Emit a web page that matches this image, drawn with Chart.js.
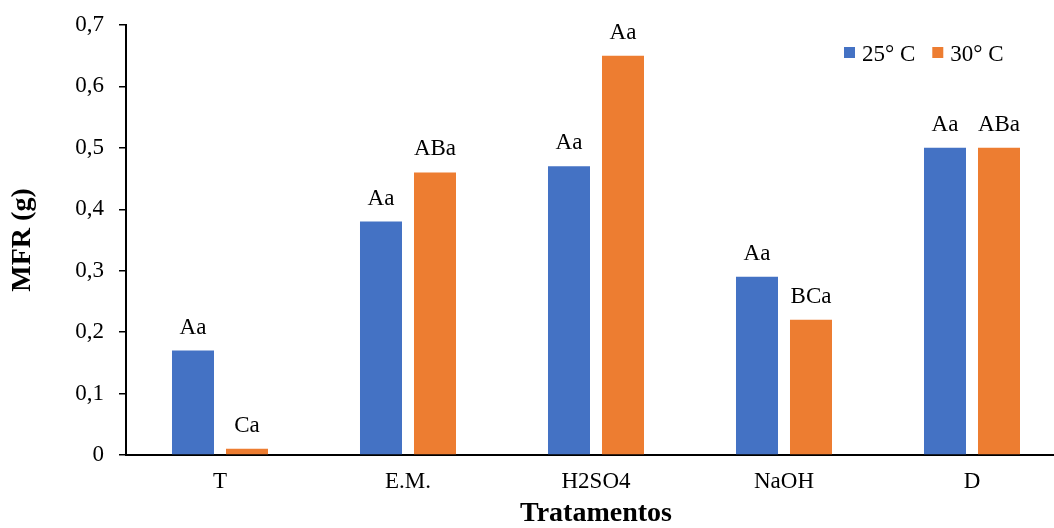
<!DOCTYPE html>
<html><head><meta charset="utf-8">
<script src="https://cdn.jsdelivr.net/npm/chart.js@4"></script>
<style>html,body{margin:0;padding:0;overflow:hidden;background:#fff}#wrap{width:1054px;height:528px;overflow:hidden;position:relative}canvas{display:block}</style>
</head><body><div id="wrap"><canvas id="c" width="1066" height="528"></canvas></div>
<script>
const categories = ['T', 'E.M.', 'H2SO4', 'NaOH', 'D'];
const seriesNames = ['25° C', '30° C'];
const values25 = [0.17, 0.38, 0.47, 0.29, 0.50];
const values30 = [0.01, 0.46, 0.65, 0.22, 0.50];
const letters25 = ['Aa', 'Aa', 'Aa', 'Aa', 'Aa'];
const letters30 = ['Ca', 'ABa', 'Aa', 'BCa', 'ABa'];
const yTickLabels = ['0', '0,1', '0,2', '0,3', '0,4', '0,5', '0,6', '0,7'];
const colors = ['#4472C4', '#ED7D31'];

const FONT = '"Times New Roman", "Liberation Serif", serif';

const barLabels = {
  id: 'barLabels',
  afterDatasetsDraw(chart) {
    const ctx = chart.ctx;
    ctx.save();
    ctx.font = '23px ' + FONT;
    ctx.fillStyle = '#000';
    ctx.textAlign = 'center';
    ctx.textBaseline = 'alphabetic';
    chart.data.datasets.forEach((ds, i) => {
      const meta = chart.getDatasetMeta(i);
      meta.data.forEach((bar, j) => {
        ctx.fillText(ds.letters[j], bar.x, bar.y - 17);
      });
    });
    ctx.restore();
  }
};

const legendPlugin = {
  id: 'customLegend',
  afterDraw(chart) {
    const ctx = chart.ctx;
    const area = chart.chartArea;
    ctx.save();
    ctx.font = '23px ' + FONT;
    ctx.textBaseline = 'alphabetic';
    ctx.textAlign = 'left';
    let x = area.right - 222;
    const sqTop = area.top + 22;
    chart.data.datasets.forEach((ds) => {
      ctx.fillStyle = ds.backgroundColor;
      ctx.fillRect(x, sqTop, 11, 11);
      ctx.fillStyle = '#000';
      ctx.fillText(ds.label, x + 18, sqTop + 14);
      x += 18 + ctx.measureText(ds.label).width + 17;
    });
    ctx.restore();
  }
};

new Chart(document.getElementById('c'), {
  type: 'bar',
  data: {
    labels: categories,
    datasets: [
      { label: seriesNames[0], data: values25, letters: letters25, backgroundColor: colors[0] },
      { label: seriesNames[1], data: values30, letters: letters30, backgroundColor: colors[1] }
    ]
  },
  options: {
    responsive: false,
    animation: false,
    devicePixelRatio: 1,
    categoryPercentage: 0.5745,
    barPercentage: 0.7778,
    layout: { padding: { top: 25, left: 0, right: 0, bottom: 0 } },
    plugins: { legend: { display: false }, tooltip: { enabled: false } },
    scales: {
      x: {
        afterFit(scale) { scale.height = 73; scale.paddingLeft = 0; scale.paddingRight = 0; },
        grid: { display: false, drawTicks: false, tickLength: 0 },
        border: { display: true, color: '#000', width: 2 },
        ticks: { color: '#000', font: { family: FONT, size: 23 }, padding: 13, maxRotation: 0 },
        title: { display: true, text: 'Tratamentos', color: '#000',
                 font: { family: FONT, size: 28, weight: 'bold', lineHeight: 1 },
                 padding: { top: 0, bottom: 0 } }
      },
      y: {
        min: 0, max: 0.7,
        afterFit(scale) { scale.width = 126; scale.paddingTop = 0; scale.paddingBottom = 0; },
        grid: { display: true, drawOnChartArea: false, drawTicks: true, tickLength: 7, color: '#000', lineWidth: 1.5 },
        border: { display: true, color: '#000', width: 2 },
        ticks: {
          stepSize: 0.1, color: '#000', padding: 15,
          font: { family: FONT, size: 23 },
          callback: (v, i) => yTickLabels[i]
        },
        title: { display: true, text: 'MFR (g)', color: '#000',
                 font: { family: FONT, size: 28, weight: 'bold', lineHeight: 1 },
                 padding: { top: 9, bottom: 0 } }
      }
    }
  },
  plugins: [barLabels, legendPlugin]
});
</script>
</body></html>
